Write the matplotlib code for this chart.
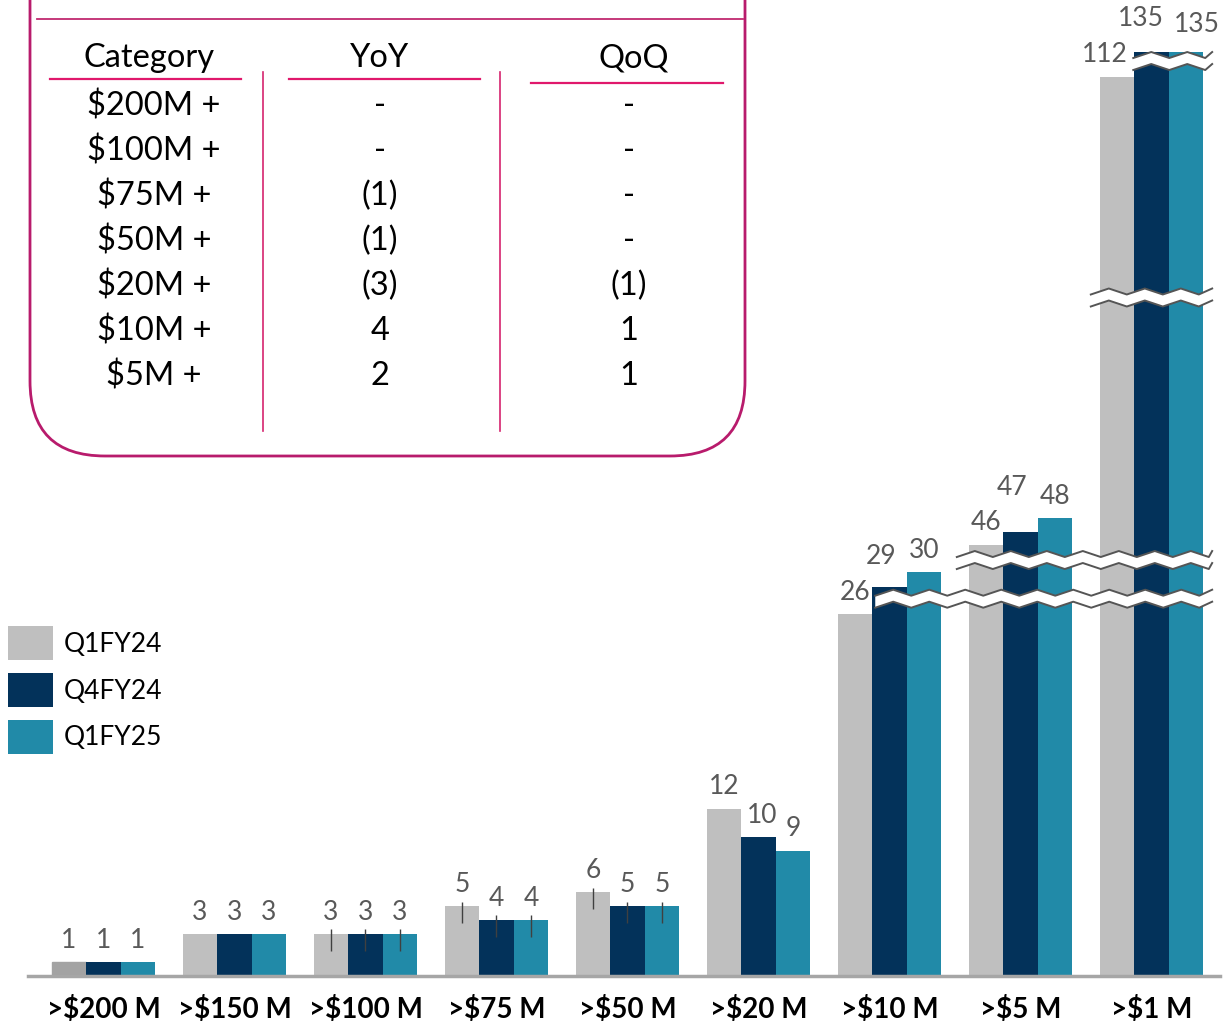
import numpy as np
import matplotlib
matplotlib.use("Agg")
import matplotlib.pyplot as plt
from matplotlib.patches import FancyBboxPatch

plt.rcParams['font.family'] = ['Lato', 'DejaVu Sans']

W, H = 1225, 1025

# chart data
categories = [">$200 M", ">$150 M", ">$100 M", ">$75 M", ">$50 M",
              ">$20 M", ">$10 M", ">$5 M", ">$1 M"]
series_names = ["Q1FY24", "Q4FY24", "Q1FY25"]
q1fy24 = [1, 3, 3, 5, 6, 12, 26, 46, 112]
q4fy24 = [1, 3, 3, 4, 5, 10, 29, 47, 135]
q1fy25 = [1, 3, 3, 4, 5, 9, 30, 48, 135]
colors = ["#BFBFBF", "#03325A", "#218AA8"]

# table data
table_header = ["Category", "YoY", "QoQ"]
table_cat = ["$200M +", "$100M +", "$75M +", "$50M +", "$20M +", "$10M +", "$5M +"]
table_yoy = ["-", "-", "(1)", "(1)", "(3)", "4", "2"]
table_qoq = ["-", "-", "-", "-", "(1)", "1", "1"]

# broken value axis: value -> pixel height above the baseline
knot_vals = np.array([0, 26, 29, 30, 46, 48, 112, 135, 150])
knot_px = np.array([0, 362, 389, 404, 431, 458, 899, 924, 976])

def fwd(v):
    return np.interp(v, knot_vals, knot_px)

def inv(p):
    return np.interp(p, knot_px, knot_vals)

fig = plt.figure(figsize=(W / 100, H / 100), dpi=100)
ax = fig.add_axes([28 / W, (H - 976) / H, (1220 - 28) / W, 976 / H])
ax.set_yscale('function', functions=(fwd, inv))
ax.set_ylim(0, 150)
ax.set_xlim(-0.576, 8.523)

x = np.arange(len(categories))
bw = 0.263
all_series = [q1fy24, q4fy24, q1fy25]
containers = []
for j, vals in enumerate(all_series):
    bars = ax.bar(x + (j - 1) * bw, vals, bw, color=colors[j],
                  label=series_names[j], zorder=2)
    containers.append(bars)

ax.legend(loc='upper left', bbox_to_anchor=(8 / W, 1 - 626 / H),
          bbox_transform=fig.transFigure, frameon=False, fontsize=19,
          handlelength=1.705, handleheight=1.605, borderpad=0, borderaxespad=0,
          handletextpad=0.42, labelspacing=0.49)

# first gray bar is a shade darker in the original
containers[0][0].set_color("#A3A3A3")

# value labels, with a few nudges (px) as in the original
nudges = {(5, 1): (4, -1), (6, 1): (-8, 8), (7, 1): (-8, 22),
          (8, 0): (-12, 1), (8, 1): (-11, 11), (8, 2): (11, 5)}
for j, vals in enumerate(all_series):
    for i, v in enumerate(vals):
        dx, dy = nudges.get((i, j), (0, 0))
        ax.annotate(str(v), (x[i] + (j - 1) * bw, v),
                    xytext=(dx * 0.72, (22 + dy) * 0.72), textcoords='offset points',
                    ha='center', va='center', fontsize=19, color="#595959", zorder=3)

# small tick marks seen on some groups
for i in [2, 3, 4]:
    for j, vals in enumerate(all_series):
        ax.vlines(x[i] + (j - 1) * bw, vals[i] - 1.2, vals[i] + 0.35,
                  color="#404040", lw=1, zorder=3)

ax.axhline(0, color="#A6A6A6", lw=2.5, clip_on=False, zorder=4)
for s in ax.spines.values():
    s.set_visible(False)
ax.set_yticks([])
ax.set_xticks(x)
ax.set_xticklabels(categories, fontsize=20, fontweight='bold')
ax.tick_params(axis='x', length=0, pad=14.5)

# overlay in pixel coordinates for the table and axis breaks
ov = fig.add_axes([0, 0, 1, 1])
ov.set_xlim(0, W)
ov.set_ylim(H, 0)
ov.axis('off')
ov.patch.set_alpha(0)

def to_px(xd, yd):
    px, py = ax.transData.transform((xd, yd))
    return px, H - py

def zigzag(x0, x1, yc, period=36, amp=3):
    xs = np.arange(x0, x1, period / 2)
    xs = np.append(xs, x1)
    ys = yc + amp * np.where(np.arange(len(xs)) % 2 == 0, 1, -1)
    return xs, ys

# (value, group, series, left pad px)
breaks = [(27.7, 6, 1, -3), (37.1, 7, 0, 12), (80, 8, 0, 9), (126.7, 8, 1, 1)]
for val, gi, sj, pad in breaks:
    xl, yc = to_px(x[gi] + (sj - 1) * bw - bw / 2, val)
    xr, _ = to_px(x[-1] + 1.5 * bw, val)
    xs, ys = zigzag(xl - pad, xr + 9, yc)
    ov.fill(np.concatenate([xs, xs[::-1]]),
            np.concatenate([ys - 6, (ys + 6)[::-1]]), color='white', lw=0, zorder=5)
    ov.plot(xs, ys - 6, color="#555555", lw=1.4, zorder=6)
    ov.plot(xs, ys + 6, color="#555555", lw=1.4, zorder=6)

# table
box = FancyBboxPatch((30, -80), 715, 536, boxstyle='round,pad=0,rounding_size=75',
                     ec="#B81B6C", fc='none', lw=2)
ov.add_patch(box)
ov.plot([37, 743], [19, 19], color="#C02A70", lw=1.3)
for x0, x1, yy in [(50, 241, 79), (289, 480, 79), (531, 723, 83)]:
    ov.plot([x0, x1], [yy, yy], color="#E0186C", lw=1.6)
for xx in [263, 500]:
    ov.plot([xx, xx], [72, 431], color="#D6246E", lw=1.2)

col_x = [149, 380, 634]
for cx, txt in zip(col_x, table_header):
    ov.text(cx, 58, txt, ha='center', va='center', fontsize=23.5, color='black')
for r in range(len(table_cat)):
    yy = 106 + 45 * r
    ov.text(154, yy, table_cat[r], ha='center', va='center', fontsize=23.5)
    ov.text(380, yy, table_yoy[r], ha='center', va='center', fontsize=23.5)
    ov.text(629, yy, table_qoq[r], ha='center', va='center', fontsize=23.5)

fig.savefig("out.png", dpi=100)
